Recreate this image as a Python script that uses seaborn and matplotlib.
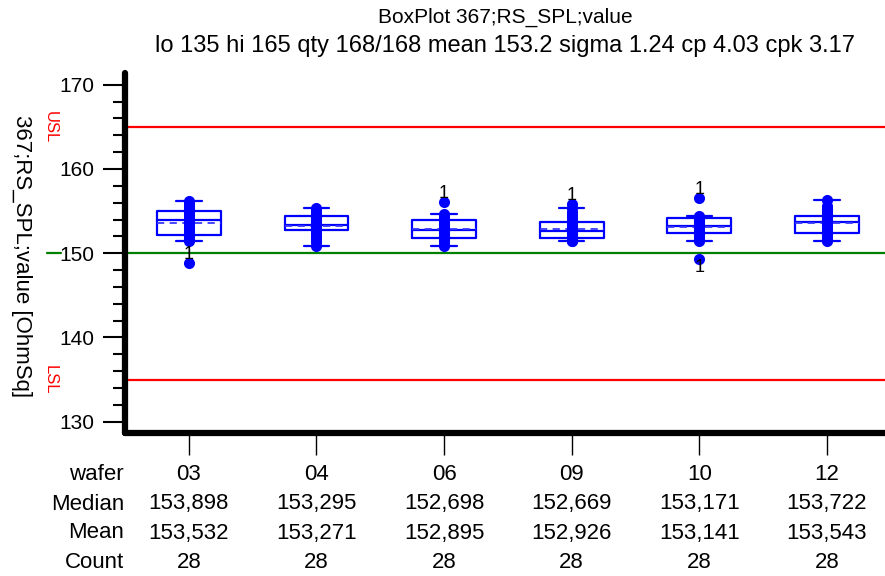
import matplotlib
matplotlib.use("Agg")
import matplotlib.pyplot as plt
import matplotlib.transforms as mtransforms
from matplotlib.ticker import MultipleLocator
import numpy as np
import pandas as pd
import seaborn as sns

# ---- data -------------------------------------------------------------
wafers = ["03", "04", "06", "09", "10", "12"]

values_03 = [148.8, 151.4, 151.7, 151.9, 152.0, 152.1, 152.2, 152.5, 152.8, 153.0,
             153.3, 153.5, 153.7, 153.85, 153.95, 154.1, 154.3, 154.5, 154.6, 154.8,
             154.9, 155.0, 155.1, 155.3, 155.5, 155.7, 156.0, 156.2]
values_04 = [150.9, 151.3, 151.7, 152.1, 152.4, 152.6, 152.7, 152.8, 152.9, 153.0,
             153.1, 153.2, 153.25, 153.3, 153.3, 153.4, 153.5, 153.6, 153.7, 153.9,
             154.0, 154.2, 154.3, 154.4, 154.6, 154.8, 155.1, 155.4]
values_06 = [150.9, 151.2, 151.5, 151.7, 151.8, 151.9, 152.0, 152.1, 152.2, 152.4,
             152.5, 152.6, 152.65, 152.7, 152.7, 152.9, 153.1, 153.3, 153.5, 153.6,
             153.8, 153.9, 154.0, 154.1, 154.3, 154.5, 154.7, 156.1]
values_09 = [151.4, 151.5, 151.6, 151.7, 151.8, 151.9, 152.0, 152.1, 152.3, 152.4,
             152.5, 152.6, 152.65, 152.7, 152.7, 152.8, 153.0, 153.1, 153.3, 153.5,
             153.6, 153.7, 153.9, 154.2, 154.5, 154.9, 155.4, 155.9]
values_10 = [149.3, 151.4, 151.6, 151.8, 152.0, 152.2, 152.3, 152.4, 152.6, 152.8,
             152.9, 153.0, 153.1, 153.15, 153.2, 153.3, 153.4, 153.5, 153.6, 153.7,
             153.8, 153.9, 154.0, 154.1, 154.2, 154.3, 154.4, 156.6]
values_12 = [151.4, 151.6, 151.8, 152.0, 152.2, 152.3, 152.4, 152.6, 152.8, 153.0,
             153.2, 153.4, 153.6, 153.7, 153.75, 153.9, 154.0, 154.1, 154.2, 154.3,
             154.4, 154.5, 154.7, 154.9, 155.1, 155.3, 155.6, 156.3]

medians = [153.898, 153.295, 152.698, 152.669, 153.171, 153.722]
means = [153.532, 153.271, 152.895, 152.926, 153.141, 153.543]
counts = [28, 28, 28, 28, 28, 28]
q1s = [152.15, 152.7, 151.85, 151.85, 152.35, 152.4]
q3s = [155.0, 154.4, 153.95, 153.7, 154.2, 154.4]
whis_lo = [151.4, 150.9, 150.9, 151.4, 151.4, 151.4]
whis_hi = [156.2, 155.4, 154.7, 155.4, 154.4, 156.3]

# flagged points: (wafer, value, label side)
flag_wafer = ["03", "06", "09", "10", "10"]
flag_value = [148.8, 156.1, 155.9, 156.6, 149.3]
flag_side = ["above", "above", "above", "above", "below"]

lsl, target, usl = 135, 150, 165
title_1 = "BoxPlot 367;RS_SPL;value"
title_2 = "lo 135 hi 165 qty 168/168 mean 153.2 sigma 1.24 cp 4.03 cpk 3.17"
y_label = "367;RS_SPL;value [OhmSq]"

# ---- style ------------------------------------------------------------
sns.set_theme(style="white")
plt.rcParams["font.family"] = ["Liberation Sans", "DejaVu Sans"]
plt.rcParams["text.color"] = "black"
plt.rcParams["axes.labelcolor"] = "black"
plt.rcParams["xtick.color"] = "black"
plt.rcParams["ytick.color"] = "black"
BLUE = "#0000FF"

df = pd.DataFrame({
    "wafer": np.repeat(wafers, [len(v) for v in
                                (values_03, values_04, values_06, values_09, values_10, values_12)]),
    "value": values_03 + values_04 + values_06 + values_09 + values_10 + values_12,
})

fig = plt.figure(figsize=(8.85, 5.76), dpi=100)
ax = fig.add_axes([125 / 885, 1 - 433 / 576, 1 - 125 / 885, (433 - 73) / 576])

# boxes from summary statistics
stats = []
for i in range(len(wafers)):
    stats.append(dict(med=medians[i], q1=q1s[i], q3=q3s[i], whislo=whis_lo[i],
                      whishi=whis_hi[i], mean=means[i], fliers=[]))
ax.bxp(stats, positions=range(len(wafers)), widths=0.5, capwidths=0.2,
       showmeans=True, meanline=True, showfliers=False, patch_artist=False,
       boxprops=dict(color=BLUE, lw=1.6),
       medianprops=dict(color=BLUE, lw=1.6),
       meanprops=dict(color="#3a3aff", lw=1.3, ls=(0, (4, 3))),
       whiskerprops=dict(color=BLUE, lw=1.6),
       capprops=dict(color=BLUE, lw=1.6), zorder=2)

# individual measurements
sns.stripplot(data=df, x="wafer", y="value", order=wafers, jitter=False,
              color=BLUE, size=8, linewidth=0, ax=ax, zorder=3)

# spec limits and target
ax.axhline(usl, color="red", lw=1.6, zorder=1)
ax.axhline(lsl, color="red", lw=1.6, zorder=1)
ax.axhline(target, color="green", lw=1.6, zorder=1)

ylab_tr = mtransforms.blended_transform_factory(ax.transAxes, ax.transData)
ax.text((50 - 125) / 760, usl, "USL", color="red", rotation=270, fontsize=12,
        ha="center", va="center", transform=ylab_tr)
ax.text((50 - 125) / 760, lsl, "LSL", color="red", rotation=270, fontsize=12,
        ha="center", va="center", transform=ylab_tr)
ax.plot([(47 - 125) / 760, (61 - 125) / 760], [target, target], color="green",
        lw=1.6, transform=ylab_tr, clip_on=False)

# labels of flagged points
for w, v, s in zip(flag_wafer, flag_value, flag_side):
    ax.text(wafers.index(w), v, "1", fontsize=13, ha="center",
            va="bottom" if s == "above" else "top", zorder=4)

# axes
ax.set_xlim(-0.5, 5.455)
ax.set_ylim(128.66, 171.39)
ax.yaxis.set_major_locator(MultipleLocator(10))
ax.yaxis.set_minor_locator(MultipleLocator(2))
ax.set_xticks(range(len(wafers)))
ax.set_xticklabels([])
ax.set_xlabel("")
ax.set_ylabel("")
ax.tick_params(axis="y", which="major", left=True, length=16, width=1.5,
               color="black", labelsize=15, pad=6)
ax.tick_params(axis="y", which="minor", left=True, length=9, width=1.5, color="black")
ax.tick_params(axis="x", which="major", bottom=True, length=16, width=1, color="black")
for side in ("top", "right"):
    ax.spines[side].set_visible(False)
for side in ("left", "bottom"):
    ax.spines[side].set_color("black")
    ax.spines[side].set_linewidth(4.5)
    ax.spines[side].set_capstyle("round")
ax.grid(False)

fig.text(21 / 885, 1 - 256 / 576, y_label, rotation=270, fontsize=16,
         ha="center", va="center")

# title
fig.text(505 / 885, 1 - 17 / 576, title_1, fontsize=15, ha="center", va="center")
fig.text(505 / 885, 1 - 46 / 576, title_2, fontsize=17, ha="center", va="center")

# summary table below the axis
tab_tr = mtransforms.blended_transform_factory(ax.transData, fig.transFigure)
row_y = [474, 504, 533, 562]
rows = [
    ("wafer", wafers),
    ("Median", [f"{m:.3f}".replace(".", ",") for m in medians]),
    ("Mean", [f"{m:.3f}".replace(".", ",") for m in means]),
    ("Count", [str(c) for c in counts]),
]
for (name, cells), py in zip(rows, row_y):
    fig.text(124 / 885, 1 - py / 576, name, fontsize=16, ha="right", va="center")
    for i, c in enumerate(cells):
        ax.text(i, 1 - py / 576, c, fontsize=16, ha="center", va="center",
                transform=tab_tr)

fig.savefig("out.png", dpi=100, facecolor="white")
